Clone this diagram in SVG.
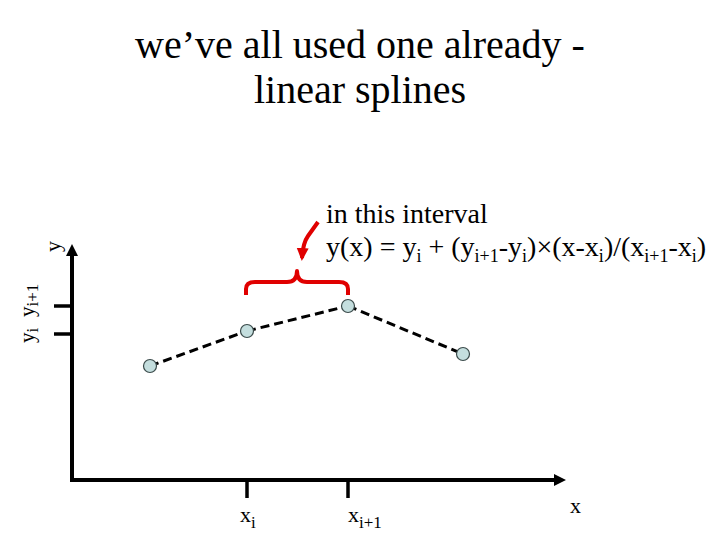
<svg xmlns="http://www.w3.org/2000/svg" width="720" height="540" viewBox="0 0 720 540">
<style>
text{font-family:"Liberation Serif","Times New Roman",serif;fill:#000}
.axis{stroke:#000;stroke-width:4;fill:none}
.tick{stroke:#000;stroke-width:3.5;fill:none}
.seg{stroke:#000;stroke-width:3;stroke-dasharray:9 5;fill:none}
.pt{fill:#c4dede;stroke:#3a4a4a;stroke-width:1.2}
.sub{font-size:17px}
.fsub{font-size:18px}
</style>
<defs>
<marker id="rh" markerWidth="14" markerHeight="14" refX="10" refY="7" orient="auto" markerUnits="userSpaceOnUse" viewBox="0 0 14 14">
<path d="M0,1 L13,7 L0,13 Z" fill="#e00000"/>
</marker>
</defs>
<g id="title">
<text x="360" y="58" font-size="40" text-anchor="middle">we’ve all used one already -</text>
<text x="360" y="103" font-size="40" text-anchor="middle">linear splines</text>
</g>
<g id="axes">
<line class="axis" x1="72" y1="482" x2="72" y2="254"/>
<path d="M66,256 L72,244 L78,256 Z" fill="#000"/>
<line class="axis" x1="70" y1="480" x2="556" y2="480"/>
<path d="M554,474 L566,480 L554,486 Z" fill="#000"/>
<line class="tick" x1="54" y1="306" x2="72" y2="306"/>
<line class="tick" x1="54" y1="334" x2="72" y2="334"/>
<line class="tick" x1="247" y1="480" x2="247" y2="498"/>
<line class="tick" x1="348" y1="480" x2="348" y2="498"/>
</g>
<g id="labels">
<text transform="translate(60,252) rotate(-90)" font-size="22">y</text>
<text transform="translate(34,343) rotate(-90)" font-size="21">y<tspan class="sub" dy="4">i</tspan></text>
<text transform="translate(34,317) rotate(-90)" font-size="21">y<tspan class="sub" dy="4">i+1</tspan></text>
<text x="240" y="522" font-size="22">x<tspan class="sub" dy="6">i</tspan></text>
<text x="348" y="522" font-size="22">x<tspan class="sub" dy="6">i+1</tspan></text>
<text x="570" y="513" font-size="22">x</text>
</g>
<g id="connectors">
<line class="seg" x1="150" y1="366" x2="247" y2="331"/>
<line class="seg" x1="247" y1="331" x2="348" y2="306"/>
<line class="seg" x1="348" y1="306" x2="463" y2="354"/>
</g>
<g id="points">
<circle id="p1" class="pt" cx="150" cy="366" r="6.5"/>
<circle id="p2" class="pt" cx="247" cy="331" r="6.5"/>
<circle id="p3" class="pt" cx="348" cy="306" r="6.5"/>
<circle id="p4" class="pt" cx="463" cy="354" r="6.5"/>
</g>
<g id="brace">
<path d="M246,295 L246,289 Q246,282 255,282 L287,282 Q297,282 297,271 Q297,282 307,282 L339,282 Q348,282 348,289 L348,295" stroke="#e00000" stroke-width="4" fill="none" stroke-linejoin="round"/>
<path d="M318,222 L308,236 Q303,243 302,258" stroke="#e00000" stroke-width="4" fill="none" marker-end="url(#rh)"/>
</g>
<g id="formula">
<text x="326" y="223" font-size="28">in this interval</text>
<text x="326" y="256" font-size="28">y(x) = y<tspan class="fsub" dy="6">i</tspan><tspan dy="-6"> + (y</tspan><tspan class="fsub" dy="6">i+1</tspan><tspan dy="-6">-y</tspan><tspan class="fsub" dy="6">i</tspan><tspan dy="-6">)×(x-x</tspan><tspan class="fsub" dy="6">i</tspan><tspan dy="-6">)/(x</tspan><tspan class="fsub" dy="6">i+1</tspan><tspan dy="-6">-x</tspan><tspan class="fsub" dy="6">i</tspan><tspan dy="-6">)</tspan></text>
</g>
</svg>
